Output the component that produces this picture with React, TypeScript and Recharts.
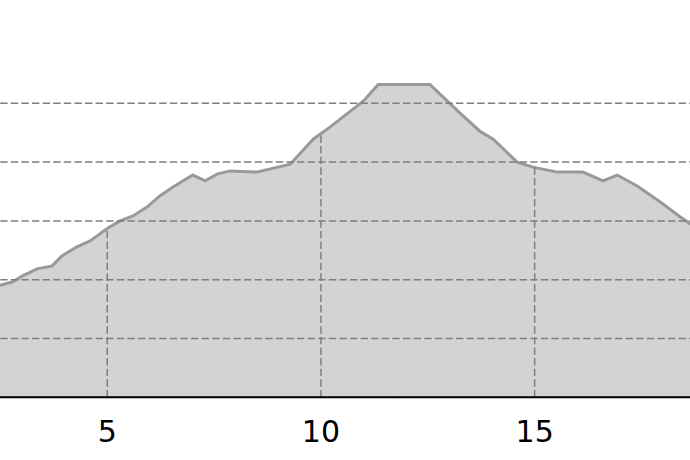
import React from 'react';
import { AreaChart, Area, XAxis, YAxis, ReferenceLine } from 'recharts';

// distance along the route and the profile height
const distances = [
  2.0, 2.49, 2.79, 3.03, 3.36, 3.71, 3.94, 4.29, 4.6, 4.99, 5.3, 5.6, 5.93, 6.23, 6.54,
  7.0, 7.29, 7.57, 7.87, 8.5, 9.28, 9.82, 10.21, 10.99, 11.34, 12.55, 13.26, 13.72,
  14.03, 14.59, 14.96, 15.53, 16.13, 16.6, 16.93, 17.4, 17.94, 18.4, 18.64, 19.5,
];
const heights = [
  36.5, 38.1, 39.3, 41.4, 43.7, 44.7, 48.1, 51.2, 53.2, 57.3, 60.0, 61.7, 64.7, 68.5, 71.5,
  75.6, 73.6, 75.9, 77.0, 76.6, 79.3, 87.8, 91.9, 100.7, 106.4, 106.4, 96.6, 90.5,
  87.8, 80.0, 78.3, 76.6, 76.6, 73.6, 75.6, 71.9, 66.4, 61.4, 59.0, 54.0,
];
const xTicks = [5, 10, 15];
const yTicks = [0, 20, 40, 60, 80, 100];

const data = distances.map((d, i) => ({ d, h: heights[i] }));

// height of the profile at a given distance (between the two nearest points)
function heightAt(x: number) {
  for (let i = 1; i < distances.length; i++) {
    if (distances[i] >= x) {
      const t = (x - distances[i - 1]) / (distances[i] - distances[i - 1]);
      return heights[i - 1] + t * (heights[i] - heights[i - 1]);
    }
  }
  return heights[heights.length - 1];
}

const gridStyle = { stroke: '#7f7f7f', strokeDasharray: '7.4 3.2', strokeWidth: 1.5 };

export default function App() {
  return (
    <div style={{ position: 'fixed', top: 0, left: 0, width: 690, height: 460, overflow: 'hidden', background: '#fff' }}>
      <div style={{ position: 'absolute', left: -21, top: 0 }}>
        <AreaChart
          width={748}
          height={460}
          data={data}
          margin={{ top: 44.5, right: 0, bottom: 2.7, left: 0 }}
        >
          <XAxis
            dataKey="d"
            type="number"
            domain={[2, 19.5]}
            ticks={xTicks}
            tickLine={false}
            tickMargin={17}
            height={60}
            axisLine={{ stroke: '#000', strokeWidth: 2 }}
            tick={{ fill: '#000', fontSize: 30, fontFamily: 'DejaVu Sans' }}
          />
          <YAxis hide domain={[0, 120]} ticks={yTicks} />
          <Area
            type="linear"
            dataKey="h"
            stroke="#999999"
            strokeWidth={3}
            fill="#d3d3d3"
            fillOpacity={1}
            isAnimationActive={false}
          />
          {yTicks.map((y) => (
            <ReferenceLine key={'h' + y} y={y} {...gridStyle} />
          ))}
          {xTicks.map((x) => (
            <ReferenceLine
              key={'v' + x}
              segment={[{ x, y: 0 }, { x, y: heightAt(x) }]}
              {...gridStyle}
            />
          ))}
        </AreaChart>
      </div>
    </div>
  );
}
